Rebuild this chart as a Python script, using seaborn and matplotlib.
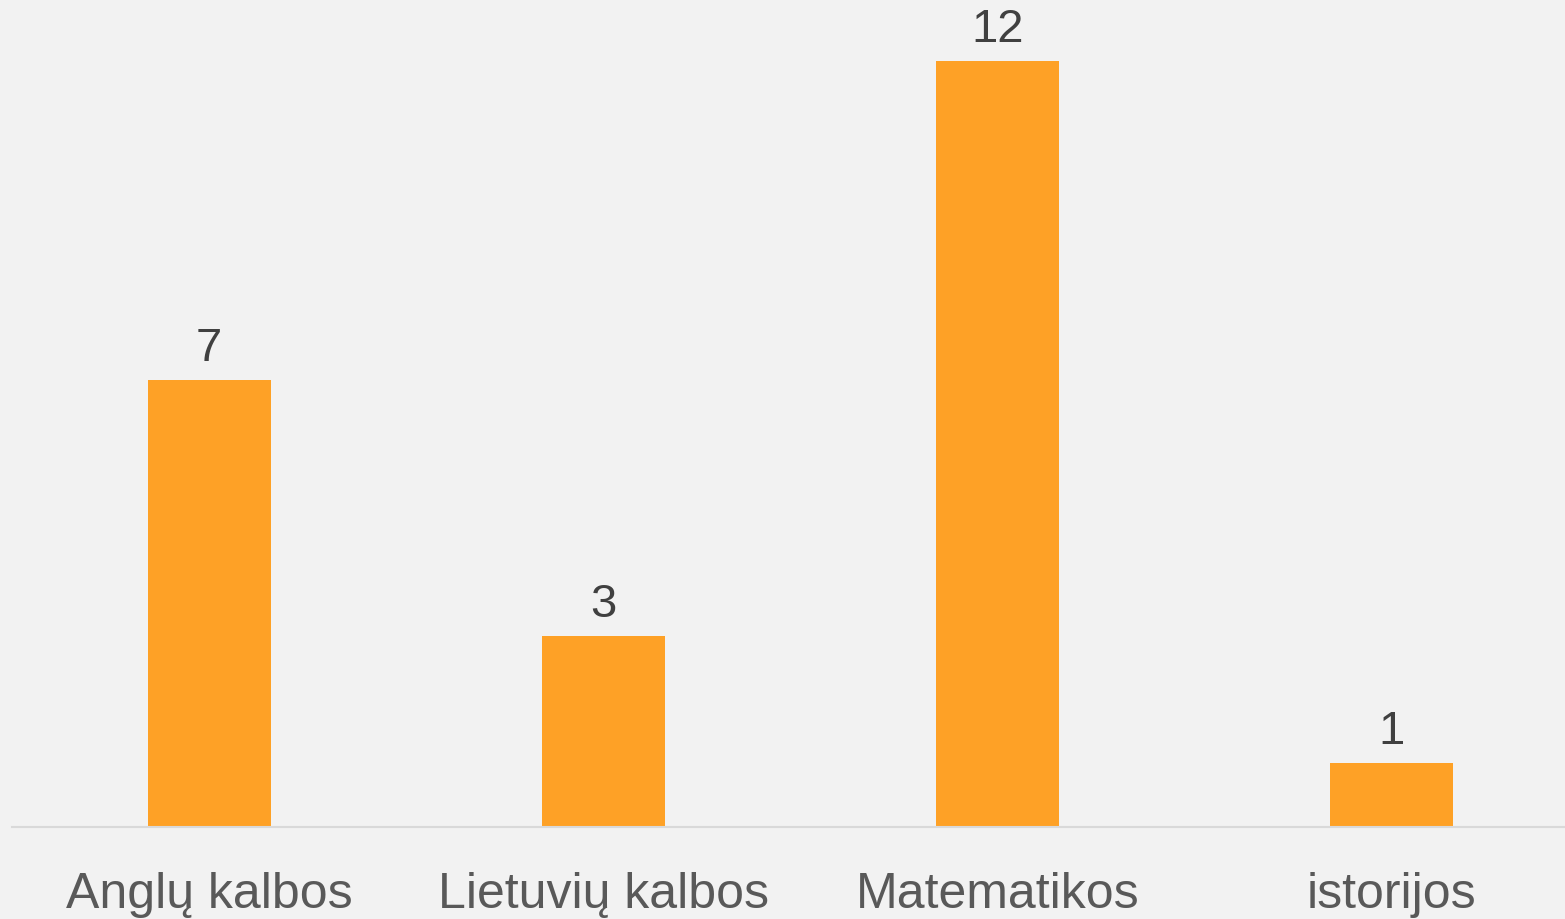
import matplotlib
matplotlib.use("Agg")
import matplotlib.pyplot as plt
import seaborn as sns
import pandas as pd

categories = ["Anglų kalbos", "Lietuvių kalbos", "Matematikos", "istorijos"]
values = [7, 3, 12, 1]

df = pd.DataFrame({"subject": categories, "count": values})

sns.set_theme(style="white")
plt.rcParams['font.family'] = ['Liberation Sans', 'DejaVu Sans']

bg = "#F2F2F2"
fig = plt.figure(figsize=(15.65, 9.2), dpi=100, facecolor=bg)
ax = fig.add_axes([12/1565, 92/920, 1 - 12/1565, 828/920])
ax.set_facecolor(bg)

sns.barplot(data=df, x="subject", y="count", color="#FEA126", saturation=1,
            width=0.312, ax=ax, order=categories, linewidth=0, edgecolor="none")

ax.set_xlim(-0.5, 3.44)
ax.set_ylim(0, 828/63.83)
ax.set_xlabel("")
ax.set_ylabel("")
ax.set_yticks([])
for s in ["left", "right", "top"]:
    ax.spines[s].set_visible(False)
ax.spines["bottom"].set_color("#D9D9D9")
ax.spines["bottom"].set_linewidth(1.5)
ax.tick_params(axis="x", length=0, pad=32, labelsize=36, labelcolor="#595959")

for c in ax.containers:
    ax.bar_label(c, labels=[str(v) for v in values], padding=7, fontsize=34, color="#404040")

fig.savefig("out.png", dpi=100, facecolor=bg)
